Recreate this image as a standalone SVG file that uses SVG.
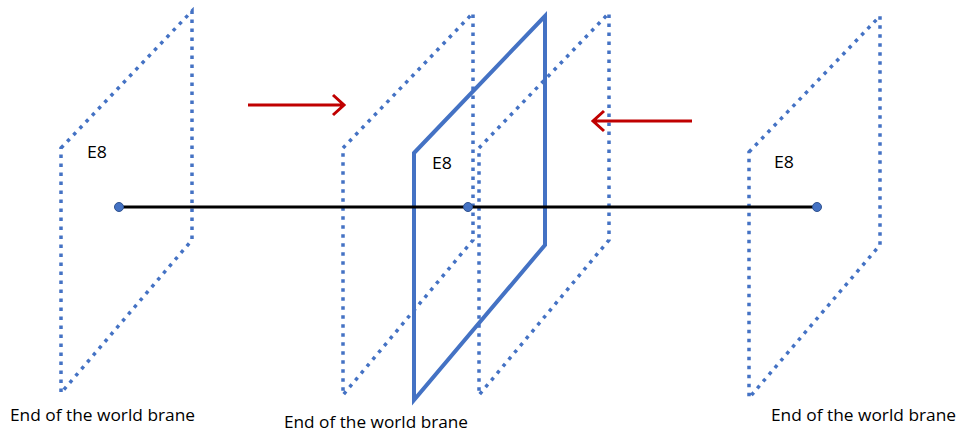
<svg xmlns="http://www.w3.org/2000/svg" width="958" height="432" viewBox="0 0 958 432">
<style>
.dot{fill:none;stroke:#4472C4;stroke-width:3.5;stroke-dasharray:3.5 5.5;stroke-linejoin:miter}
.solid{fill:none;stroke:#4472C4;stroke-width:4;stroke-linejoin:miter}
.arr{fill:none;stroke:#C00000;stroke-width:3}
.t{font-family:"Open Sans","Liberation Sans",sans-serif;font-size:16.5px;fill:#000}
</style>
<rect width="958" height="432" fill="#fff"/>
<g id="plane-left"><polygon class="dot" points="61,148 192,11 192,240 61,393"/><text class="t" x="87" y="158" textLength="20" lengthAdjust="spacingAndGlyphs">E8</text><text class="t" x="10" y="421" textLength="185" lengthAdjust="spacingAndGlyphs">End of the world brane</text></g>
<g id="plane-mid-left"><polygon class="dot" points="343,148 473,13 473,240 343,395"/></g>
<g id="plane-mid-right"><polygon class="dot" points="479,148 609,13 609,240 479,395"/></g>
<g id="plane-solid"><polygon class="solid" points="414,153 545,16 545,245 414,400"/><text class="t" x="432" y="169" textLength="20" lengthAdjust="spacingAndGlyphs">E8</text><text class="t" x="284" y="428" textLength="184" lengthAdjust="spacingAndGlyphs">End of the world brane</text></g>
<g id="plane-right"><polygon class="dot" points="749,152 880,16 880,245 749,398"/><text class="t" x="774" y="168" textLength="20" lengthAdjust="spacingAndGlyphs">E8</text><text class="t" x="771" y="421" textLength="185" lengthAdjust="spacingAndGlyphs">End of the world brane</text></g>
<g id="connectors">
<line x1="119" y1="207" x2="817" y2="207" stroke="#000" stroke-width="3"/>
<circle cx="119" cy="207" r="4.5" fill="#4472C4" stroke="#2F528F" stroke-width="1"/>
<circle cx="468" cy="207" r="4.5" fill="#4472C4" stroke="#2F528F" stroke-width="1"/>
<circle cx="817" cy="207" r="4.5" fill="#4472C4" stroke="#2F528F" stroke-width="1"/>
<path class="arr" d="M248,105 H343 M333,95 L344,105 L333,115"/>
<path class="arr" d="M692,121 H594 M604,111 L593,121 L604,131"/>
</g>
</svg>
